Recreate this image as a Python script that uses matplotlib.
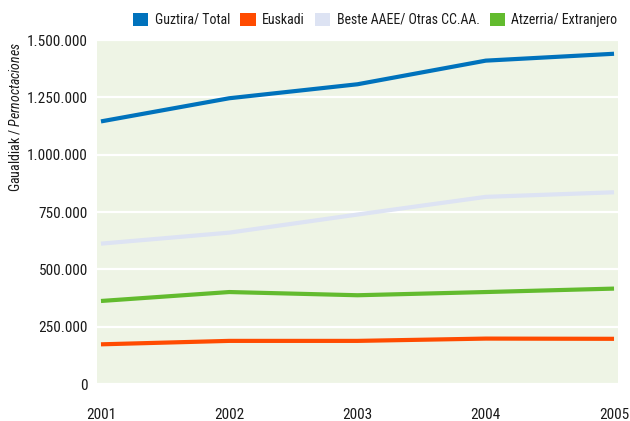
"""
Gaualdiak / Pernoctaciones 2001-2005, jatorriaren arabera.

Irteera: out.png
"""

import matplotlib

matplotlib.use("Agg")
import matplotlib.pyplot as plt
from matplotlib import font_manager
from matplotlib.patches import Patch
from matplotlib.ticker import FuncFormatter


YEARS = [2001, 2002, 2003, 2004, 2005]
TOTAL = [1145000, 1246000, 1307000, 1410000, 1440000]
EUSKADI = [173000, 188000, 188000, 198000, 197000]
BESTE = [612000, 660000, 739000, 816000, 836000]
ATZERRIA = [362000, 401000, 387000, 401000, 416000]

SERIES_LABELS = ["Guztira/ Total", "Euskadi", "Beste AAEE/ Otras CC.AA.", "Atzerria/ Extranjero"]
COLORS = ["#0072bc", "#ff4b00", "#dde3f3", "#62bb2e"]
Y_TICKS = [0, 250000, 500000, 750000, 1000000, 1250000, 1500000]

BG = "#eef4e5"
TEXT = "#1a1a1a"


def pick_font():
    names = {f.name for f in font_manager.fontManager.ttflist}
    for name in ["Liberation Sans Narrow", "DejaVu Sans Condensed", "Roboto Condensed", "Liberation Sans"]:
        if name in names:
            return name
    return "DejaVu Sans"


def thousands(v, _pos):
    return f"{int(v):,}".replace(",", ".")


def main():
    font = pick_font()
    plt.rcParams["font.family"] = [font, "DejaVu Sans"]
    plt.rcParams["mathtext.fontset"] = "custom"
    plt.rcParams["mathtext.rm"] = font
    plt.rcParams["mathtext.it"] = f"{font}:italic"

    fig = plt.figure(figsize=(6.3, 4.21), dpi=100)
    ax = fig.add_axes([97 / 630, 1 - 384 / 421, 521 / 630, 344 / 421])
    ax.set_facecolor(BG)

    for vals, color in zip([BESTE, ATZERRIA, EUSKADI, TOTAL], [COLORS[2], COLORS[3], COLORS[1], COLORS[0]]):
        ax.plot(YEARS, vals, color=color, linewidth=3.0, solid_capstyle="butt", zorder=3)

    ax.set_xlim(2001 - 0.031, 2005 + 0.031)
    ax.set_ylim(0, 1500000)

    ax.set_yticks(Y_TICKS)
    ax.yaxis.set_major_formatter(FuncFormatter(thousands))
    ax.set_xticks(YEARS)
    ax.set_xticklabels([str(y) for y in YEARS])
    ax.set_xticks(YEARS[1:-1], minor=True)

    ax.tick_params(axis="y", length=0, pad=6.5, labelsize=11, labelcolor=TEXT)
    ax.tick_params(axis="x", which="major", length=0, pad=17, labelsize=11, labelcolor=TEXT)
    ax.tick_params(axis="x", which="minor", direction="in", length=9.5, width=1.6, color="white")

    ax.grid(axis="y", color="white", linewidth=1.6, zorder=1)
    ax.set_axisbelow(True)
    for spine in ax.spines.values():
        spine.set_visible(False)

    # ardatz-etiketa: euskara zuzen, gaztelania etzanean
    ax.set_ylabel("Gaualdiak / $\\mathit{Pernoctaciones}$", fontsize=10, color=TEXT, labelpad=6)
    ax.yaxis.set_label_coords(-82 / 521, 1 - 77 / 344)
    ax.yaxis.label.set_va("center")

    handles = [Patch(facecolor=c, edgecolor="none") for c in COLORS]
    fig.legend(handles, SERIES_LABELS, loc="upper right", bbox_to_anchor=(1.0, 1.0),
               ncol=4, frameon=False, fontsize=10, handlelength=1.1, handleheight=1.1,
               handletextpad=0.45, columnspacing=0.75, labelcolor=TEXT)

    fig.savefig("out.png", dpi=100)
    plt.close(fig)


if __name__ == "__main__":
    main()
